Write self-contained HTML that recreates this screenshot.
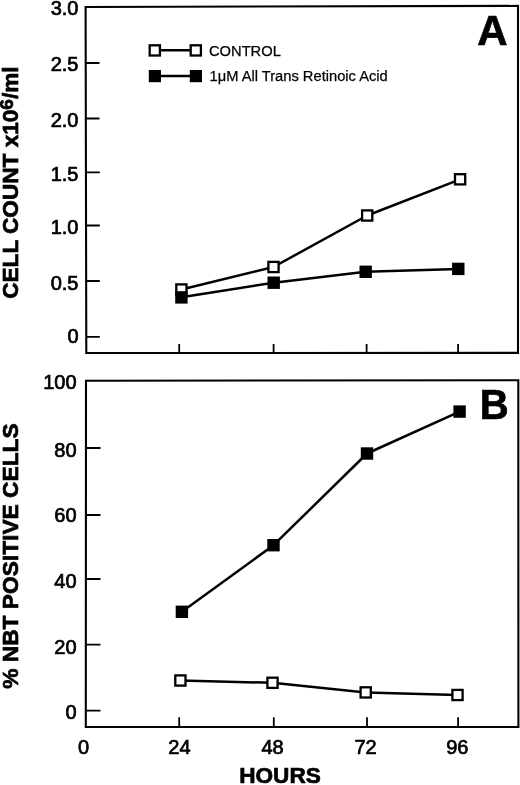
<!DOCTYPE html>
<html><head><meta charset="utf-8">
<style>
html,body{margin:0;padding:0;background:#fff;width:520px;height:785px;overflow:hidden;}
svg{display:block;will-change:transform;}
text{font-family:"Liberation Sans",sans-serif;fill:#000;stroke:#000;stroke-width:0.7px;}
.t{font-size:20px;}
.b{font-weight:bold;font-size:22.6px;}
.lg{font-size:14.7px;stroke-width:0.25px;}
.big{font-weight:bold;font-size:42px;}
</style></head>
<body>
<svg width="520" height="785" viewBox="0 0 520 785">
<g fill="none" stroke="#000" stroke-width="2.1" stroke-linejoin="miter" stroke-linecap="butt">
 <!-- Panel A frame -->
 <path d="M85.6 7 L518 5.9 L518 352.9 L86.3 353 Z"/>
 <!-- Panel B frame -->
 <path d="M86 380.7 L518.3 380.2 L518.4 727 L85.8 727 Z"/>
</g>
<g fill="none" stroke="#000" stroke-width="1.8">
 <!-- A y ticks -->
 <path d="M86 63H99.5M86 118.5H99.5M86 172.4H99.8M86 225.5H99.8M86 281H99.8M86 336.8H99.8"/>
 <!-- A x ticks -->
 <path d="M179.2 353V344M273.6 353V344M366.6 353V344M458.1 353V344"/>
 <!-- B y ticks -->
 <path d="M86 448H100.5M86 515H100.5M86 579H100.5M86 644.6H100.5M86 710.6H100.5"/>
 <!-- B x ticks -->
 <path d="M179.2 727V717.3M273.8 727V717.3M367 727V717.3M458.1 727V717.3"/>
</g>
<!-- A tick labels -->
<g class="t" text-anchor="end">
 <text x="78.5" y="15.2">3.0</text>
 <text x="78.5" y="71">2.5</text>
 <text x="78.5" y="126.5">2.0</text>
 <text x="78.5" y="181.3">1.5</text>
 <text x="78.5" y="233.8">1.0</text>
 <text x="78.5" y="289.8">0.5</text>
 <text x="78.5" y="343.3">0</text>
</g>
<!-- B tick labels -->
<g class="t" text-anchor="end">
 <text x="76.6" y="388.5">100</text>
 <text x="76.6" y="457.4">80</text>
 <text x="76.6" y="522">60</text>
 <text x="76.6" y="588">40</text>
 <text x="76.6" y="653.5">20</text>
 <text x="76.6" y="719.2">0</text>
</g>
<!-- x labels -->
<g class="t" text-anchor="middle">
 <text x="83.5" y="754.3">0</text>
 <text x="179.4" y="754.3">24</text>
 <text x="272.6" y="754.3">48</text>
 <text x="365.6" y="754.3">72</text>
 <text x="457.3" y="754.3">96</text>
</g>
<text class="b" x="280" y="783.3" text-anchor="middle">HOURS</text>
<!-- y titles -->
<text class="b" transform="translate(17.7,298.8) rotate(-90)">CELL COUNT x10<tspan style="font-size:19px" dy="-4.5">6</tspan><tspan dy="4.5">/ml</tspan></text>
<text class="b" style="font-size:22.75px" transform="translate(18.2,688.8) rotate(-90)">% NBT POSITIVE CELLS</text>
<!-- panel letters -->
<text class="big" x="492.5" y="45.2" text-anchor="middle">A</text>
<text class="big" transform="translate(494.3,419.4) scale(0.955,1)" text-anchor="middle">B</text>
<!-- legend -->
<g stroke="#000" stroke-width="2.5" fill="none">
 <path d="M161 50.3H190M161 76H190"/>
</g>
<g stroke="#000" stroke-width="2.3" fill="#fff">
 <rect x="149.7" y="45.3" width="10.2" height="10.2"/>
 <rect x="190.7" y="45.3" width="10.2" height="10.2"/>
</g>
<g fill="#000">
 <rect x="148.8" y="70" width="12.2" height="12.2"/>
 <rect x="189.8" y="70" width="12.2" height="12.2"/>
</g>
<text class="lg" x="209" y="56.2">CONTROL</text>
<text class="lg" x="209.5" y="81.2">1μM All Trans Retinoic Acid</text>
<!-- Panel A data lines -->
<g stroke="#000" stroke-width="2.5" fill="none" stroke-linejoin="round">
 <polyline points="181.4,289.5 273.5,267 367.2,215.5 460.1,179.3"/>
 <polyline points="181.4,297.3 273.7,282.7 365.7,271.7 458.3,268.9"/>
 <polyline points="181.9,611.8 273.5,545.2 367,453.5 459.6,411.6"/>
 <polyline points="180.4,680.5 272.5,682.8 365.7,692.4 457.5,695"/>
</g>
<!-- open markers -->
<g stroke="#000" stroke-width="2.3" fill="#fff">
 <rect x="176.3" y="284.4" width="10.2" height="10.2"/>
 <rect x="268.4" y="261.9" width="10.2" height="10.2"/>
 <rect x="362.1" y="210.4" width="10.2" height="10.2"/>
 <rect x="455.0" y="174.2" width="10.2" height="10.2"/>
 <rect x="175.3" y="675.4" width="10.2" height="10.2"/>
 <rect x="267.4" y="677.7" width="10.2" height="10.2"/>
 <rect x="360.6" y="687.3" width="10.2" height="10.2"/>
 <rect x="452.4" y="689.9" width="10.2" height="10.2"/>
</g>
<!-- filled markers -->
<g fill="#000">
 <rect x="175.2" y="291.2" width="12.4" height="12.4"/>
 <rect x="267.5" y="276.5" width="12.4" height="12.4"/>
 <rect x="359.5" y="265.6" width="12.4" height="12.4"/>
 <rect x="452.1" y="262.7" width="12.4" height="12.4"/>
 <rect x="175.7" y="605.6" width="12.4" height="12.4"/>
 <rect x="267.3" y="539" width="12.4" height="12.4"/>
 <rect x="360.8" y="447.3" width="12.4" height="12.4"/>
 <rect x="453.4" y="405.4" width="12.4" height="12.4"/>
</g>
</svg>
</body></html>
